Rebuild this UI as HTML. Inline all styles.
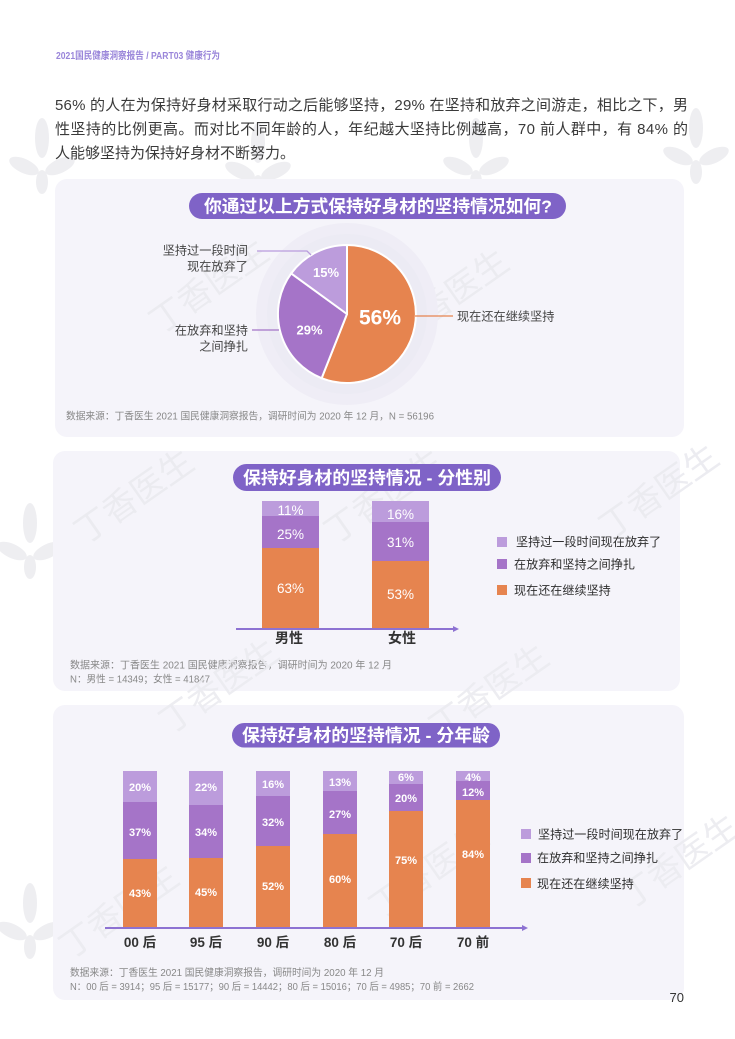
<!DOCTYPE html>
<html>
<head>
<meta charset="utf-8">
<style>
  html,body{margin:0;padding:0;background:#ffffff;}
  svg{display:block;}
  text{font-family:"Liberation Sans","Noto Sans CJK SC",sans-serif;}
</style>
</head>
<body>
<svg width="735" height="1039" viewBox="0 0 735 1039" xmlns="http://www.w3.org/2000/svg">
  <rect x="0" y="0" width="735" height="1039" fill="#ffffff"/>

  <!-- watermark flowers (background) -->
  <g fill="#eeeef1">
    <g transform="translate(42,160)">
      <ellipse cx="0" cy="-22" rx="7" ry="20"/><ellipse cx="-18" cy="6" rx="16" ry="7" transform="rotate(25 -18 6)"/><ellipse cx="18" cy="6" rx="16" ry="7" transform="rotate(-25 18 6)"/><ellipse cx="0" cy="22" rx="6" ry="12"/>
    </g>
    <g transform="translate(258,165)">
      <ellipse cx="0" cy="-22" rx="7" ry="20"/><ellipse cx="-18" cy="6" rx="16" ry="7" transform="rotate(25 -18 6)"/><ellipse cx="18" cy="6" rx="16" ry="7" transform="rotate(-25 18 6)"/><ellipse cx="0" cy="22" rx="6" ry="12"/>
    </g>
    <g transform="translate(476,160)">
      <ellipse cx="0" cy="-22" rx="7" ry="20"/><ellipse cx="-18" cy="6" rx="16" ry="7" transform="rotate(25 -18 6)"/><ellipse cx="18" cy="6" rx="16" ry="7" transform="rotate(-25 18 6)"/><ellipse cx="0" cy="22" rx="6" ry="12"/>
    </g>
    <g transform="translate(696,150)">
      <ellipse cx="0" cy="-22" rx="7" ry="20"/><ellipse cx="-18" cy="6" rx="16" ry="7" transform="rotate(25 -18 6)"/><ellipse cx="18" cy="6" rx="16" ry="7" transform="rotate(-25 18 6)"/><ellipse cx="0" cy="22" rx="6" ry="12"/>
    </g>
    <g transform="translate(30,545)">
      <ellipse cx="0" cy="-22" rx="7" ry="20"/><ellipse cx="-18" cy="6" rx="16" ry="7" transform="rotate(25 -18 6)"/><ellipse cx="18" cy="6" rx="16" ry="7" transform="rotate(-25 18 6)"/><ellipse cx="0" cy="22" rx="6" ry="12"/>
    </g>
    <g transform="translate(30,925)">
      <ellipse cx="0" cy="-22" rx="7" ry="20"/><ellipse cx="-18" cy="6" rx="16" ry="7" transform="rotate(25 -18 6)"/><ellipse cx="18" cy="6" rx="16" ry="7" transform="rotate(-25 18 6)"/><ellipse cx="0" cy="22" rx="6" ry="12"/>
    </g>
  </g>

  <!-- header -->
  <text x="56" y="58.8" font-size="10" font-weight="bold" fill="#9a86da" textLength="164" lengthAdjust="spacingAndGlyphs">2021国民健康洞察报告 / PART03 健康行为</text>

  <!-- paragraph -->
  <g font-size="15" fill="#3a3a3a">
    <text x="55" y="110" textLength="633" lengthAdjust="spacing">56% 的人在为保持好身材采取行动之后能够坚持，29% 在坚持和放弃之间游走，相比之下，男</text>
    <text x="55" y="134" textLength="633" lengthAdjust="spacing">性坚持的比例更高。而对比不同年龄的人，年纪越大坚持比例越高，70 前人群中，有 84% 的</text>
    <text x="55" y="158">人能够坚持为保持好身材不断努力。</text>
  </g>

  <!-- ============ CARD 1 ============ -->
  <rect x="55" y="179" width="629" height="258" rx="12" fill="#f5f4fa"/>
  <g fill="#ebebf0" font-size="34" opacity="0.9">
    <text x="0" y="0" transform="translate(160,335) rotate(-35)">丁香医生</text>
    <text x="0" y="0" transform="translate(400,345) rotate(-35)">丁香医生</text>
  </g>
  <!-- pill -->
  <rect x="189" y="193" width="377" height="26" rx="13" fill="#7f63c7"/>
  <text x="204" y="212.5" font-size="17.8" font-weight="bold" fill="#ffffff" textLength="348" lengthAdjust="spacingAndGlyphs">你通过以上方式保持好身材的坚持情况如何?</text>

  <!-- halo -->
  <circle cx="347" cy="314" r="91" fill="#efedf6"/>
  <circle cx="347" cy="314" r="80" fill="#ecebf4"/>
  <!-- pie -->
  <g stroke="#ffffff" stroke-width="2" stroke-linejoin="round">
    <path d="M347,314 L347,245 A69,69 0 1 1 321.6,378.2 Z" fill="#e6844f"/>
    <path d="M347,314 L321.6,378.2 A69,69 0 0 1 291.2,273.4 Z" fill="#a574c8"/>
    <path d="M347,314 L291.2,273.4 A69,69 0 0 1 347,245 Z" fill="#bc9cdc"/>
  </g>
  <text x="380" y="324.5" font-size="21" font-weight="bold" fill="#ffffff" text-anchor="middle">56%</text>
  <text x="309.5" y="334.3" font-size="13" font-weight="bold" fill="#ffffff" text-anchor="middle">29%</text>
  <text x="326" y="276.8" font-size="13" font-weight="bold" fill="#ffffff" text-anchor="middle">15%</text>

  <!-- leader lines -->
  <polyline points="257,251 307,251 311,255" fill="none" stroke="#b99bdd" stroke-width="1.3"/>
  <line x1="252" y1="330" x2="279" y2="330" stroke="#a474c8" stroke-width="1.3"/>
  <line x1="415" y1="316" x2="453" y2="316" stroke="#e6844f" stroke-width="1.3"/>

  <g font-size="12.2" fill="#444444">
    <text x="248" y="254.5" text-anchor="end">坚持过一段时间</text>
    <text x="248" y="270.5" text-anchor="end">现在放弃了</text>
    <text x="248" y="334.5" text-anchor="end">在放弃和坚持</text>
    <text x="248" y="350.7" text-anchor="end">之间挣扎</text>
    <text x="457" y="320.5">现在还在继续坚持</text>
  </g>
  <text x="66" y="419.7" font-size="10" fill="#888888" textLength="368" lengthAdjust="spacingAndGlyphs">数据来源：丁香医生 2021 国民健康洞察报告，调研时间为 2020 年 12 月，N = 56196</text>

  <!-- ============ CARD 2 ============ -->
  <rect x="53" y="451" width="627" height="240" rx="12" fill="#f5f4fa"/>
  <g fill="#ebebf0" font-size="34" opacity="0.9">
    <text x="0" y="0" transform="translate(85,545) rotate(-35)">丁香医生</text>
    <text x="0" y="0" transform="translate(335,545) rotate(-35)">丁香医生</text>
    <text x="0" y="0" transform="translate(610,540) rotate(-35)">丁香医生</text>
  </g>
  <rect x="233" y="464" width="268" height="27" rx="13.5" fill="#7f63c7"/>
  <text x="243" y="484" font-size="17.5" font-weight="bold" fill="#ffffff" textLength="248" lengthAdjust="spacingAndGlyphs">保持好身材的坚持情况 - 分性别</text>

  <!-- male bar -->
  <rect x="262" y="501" width="57" height="15" fill="#bc9cdc"/>
  <rect x="262" y="516" width="57" height="32" fill="#a574c8"/>
  <rect x="262" y="548" width="57" height="80" fill="#e6844f"/>
  <!-- female bar -->
  <rect x="372" y="501" width="57" height="21" fill="#bc9cdc"/>
  <rect x="372" y="522" width="57" height="39" fill="#a574c8"/>
  <rect x="372" y="561" width="57" height="67" fill="#e6844f"/>

  <g font-size="13.5" fill="#ffffff" text-anchor="middle">
    <text x="290.5" y="514.8">11%</text>
    <text x="290.5" y="538.8">25%</text>
    <text x="290.5" y="592.8">63%</text>
    <text x="400.5" y="518.8">16%</text>
    <text x="400.5" y="546.8">31%</text>
    <text x="400.5" y="598.8">53%</text>
  </g>
  <line x1="236" y1="629" x2="455" y2="629" stroke="#8d72d2" stroke-width="2"/>
  <path d="M453,626 L459,629 L453,632 Z" fill="#8d72d2"/>
  <g font-size="14" font-weight="bold" fill="#333333" text-anchor="middle">
    <text x="289" y="643.2">男性</text>
    <text x="402" y="643.2">女性</text>
  </g>
  <!-- legend -->
  <rect x="497" y="537" width="10" height="10" fill="#bc9cdc"/>
  <rect x="497" y="559" width="10" height="10" fill="#a574c8"/>
  <rect x="497" y="585" width="10" height="10" fill="#e6844f"/>
  <g font-size="12.1" fill="#2e2e2e">
    <text x="516" y="546.2">坚持过一段时间现在放弃了</text>
    <text x="514" y="568.5">在放弃和坚持之间挣扎</text>
    <text x="514" y="594.5">现在还在继续坚持</text>
  </g>
  <g font-size="10" fill="#888888">
    <text x="70" y="668.7" textLength="322" lengthAdjust="spacingAndGlyphs">数据来源：丁香医生 2021 国民健康洞察报告，调研时间为  2020  年  12  月</text>
    <text x="70" y="682.7" textLength="140" lengthAdjust="spacingAndGlyphs">N：男性 = 14349；女性 = 41847</text>
  </g>

  <!-- ============ CARD 3 ============ -->
  <rect x="53" y="705" width="631" height="295" rx="12" fill="#f5f4fa"/>
  <g fill="#ebebf0" font-size="34" opacity="0.9">
    <text x="0" y="0" transform="translate(170,735) rotate(-35)">丁香医生</text>
    <text x="0" y="0" transform="translate(440,740) rotate(-35)">丁香医生</text>
    <text x="0" y="0" transform="translate(70,960) rotate(-35)">丁香医生</text>
    <text x="0" y="0" transform="translate(380,920) rotate(-35)">丁香医生</text>
    <text x="0" y="0" transform="translate(630,910) rotate(-35)">丁香医生</text>
  </g>
  <rect x="232" y="723" width="268" height="24.5" rx="12.25" fill="#7f63c7"/>
  <text x="242" y="741.6" font-size="17.5" font-weight="bold" fill="#ffffff" textLength="248" lengthAdjust="spacingAndGlyphs">保持好身材的坚持情况 - 分年龄</text>

  <!-- bars: 00后 -->
  <rect x="123" y="771" width="34" height="31" fill="#bc9cdc"/>
  <rect x="123" y="802" width="34" height="57" fill="#a574c8"/>
  <rect x="123" y="859" width="34" height="68" fill="#e6844f"/>
  <!-- 95后 -->
  <rect x="189" y="771" width="34" height="34" fill="#bc9cdc"/>
  <rect x="189" y="805" width="34" height="53" fill="#a574c8"/>
  <rect x="189" y="858" width="34" height="69" fill="#e6844f"/>
  <!-- 90后 -->
  <rect x="256" y="771" width="34" height="25" fill="#bc9cdc"/>
  <rect x="256" y="796" width="34" height="50" fill="#a574c8"/>
  <rect x="256" y="846" width="34" height="81" fill="#e6844f"/>
  <!-- 80后 -->
  <rect x="323" y="771" width="34" height="20" fill="#bc9cdc"/>
  <rect x="323" y="791" width="34" height="43" fill="#a574c8"/>
  <rect x="323" y="834" width="34" height="93" fill="#e6844f"/>
  <!-- 70后 -->
  <rect x="389" y="771" width="34" height="13" fill="#bc9cdc"/>
  <rect x="389" y="784" width="34" height="27" fill="#a574c8"/>
  <rect x="389" y="811" width="34" height="116" fill="#e6844f"/>
  <!-- 70前 -->
  <rect x="456" y="771" width="34" height="10" fill="#bc9cdc"/>
  <rect x="456" y="781" width="34" height="19" fill="#a574c8"/>
  <rect x="456" y="800" width="34" height="127" fill="#e6844f"/>

  <g font-size="11" font-weight="bold" fill="#ffffff" text-anchor="middle">
    <text x="140" y="791">20%</text>
    <text x="140" y="836">37%</text>
    <text x="140" y="897">43%</text>
    <text x="206" y="791">22%</text>
    <text x="206" y="836">34%</text>
    <text x="206" y="896">45%</text>
    <text x="273" y="788">16%</text>
    <text x="273" y="826">32%</text>
    <text x="273" y="890">52%</text>
    <text x="340" y="786">13%</text>
    <text x="340" y="818">27%</text>
    <text x="340" y="883">60%</text>
    <text x="406" y="781">6%</text>
    <text x="406" y="802">20%</text>
    <text x="406" y="864">75%</text>
    <text x="473" y="781">4%</text>
    <text x="473" y="796">12%</text>
    <text x="473" y="858">84%</text>
  </g>
  <line x1="105" y1="928" x2="524" y2="928" stroke="#8d72d2" stroke-width="2"/>
  <path d="M522,925 L528,928 L522,931 Z" fill="#8d72d2"/>
  <g font-size="13.5" font-weight="bold" fill="#333333" text-anchor="middle">
    <text x="140" y="947">00 后</text>
    <text x="206" y="947">95 后</text>
    <text x="273" y="947">90 后</text>
    <text x="340" y="947">80 后</text>
    <text x="406" y="947">70 后</text>
    <text x="473" y="947">70 前</text>
  </g>
  <!-- legend -->
  <rect x="521" y="829" width="10" height="10" fill="#bc9cdc"/>
  <rect x="521" y="853" width="10" height="10" fill="#a574c8"/>
  <rect x="521" y="878" width="10" height="10" fill="#e6844f"/>
  <g font-size="12.1" fill="#2e2e2e">
    <text x="538" y="838.5">坚持过一段时间现在放弃了</text>
    <text x="537" y="862.1">在放弃和坚持之间挣扎</text>
    <text x="537" y="887.9">现在还在继续坚持</text>
  </g>
  <g font-size="10" fill="#888888">
    <text x="70" y="976" textLength="314" lengthAdjust="spacingAndGlyphs">数据来源：丁香医生 2021 国民健康洞察报告，调研时间为 2020 年 12 月</text>
    <text x="70" y="990" textLength="404" lengthAdjust="spacingAndGlyphs">N：00 后 = 3914；95 后 = 15177；90 后 = 14442；80 后 = 15016；70 后 = 4985；70 前 = 2662</text>
  </g>

  <!-- page number -->
  <text x="684" y="1002" font-size="13" fill="#333333" text-anchor="end">70</text>
</svg>
</body>
</html>
